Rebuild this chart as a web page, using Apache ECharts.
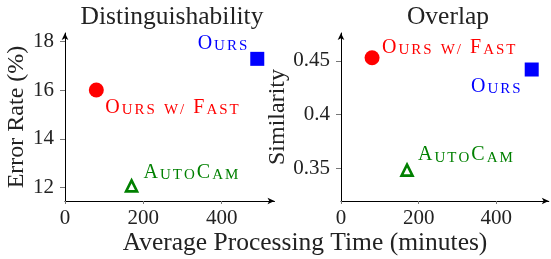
<!DOCTYPE html>
<html>
<head>
<meta charset="utf-8">
<script src="https://cdn.jsdelivr.net/npm/echarts@6/dist/echarts.min.js"></script>
<style>
  html, body { margin: 0; padding: 0; background: #fff; }
  #chart { width: 551px; height: 259px; }
</style>
</head>
<body>
<div id="chart"></div>
<script>
  // data
  var methods = ['Ours', 'Ours w/ Fast', 'AutoCam'];
  var timeMin = [491, 80, 170];
  var errorRate = [17.28, 16.0, 12.07];
  var similarity = [0.442, 0.453, 0.348];
  var xTicks = [0, 200, 400];
  var errTicks = [12, 14, 16, 18];
  var simTicks = [0.35, 0.4, 0.45];

  var colors = ['#0000ff', '#ff0000', '#008000'];
  var symbols = ['rect', 'circle', 'triangle'];
  var FONT = 'Liberation Serif';

  // label placement per panel: [align, dx, dy] from the marker centre
  var leftLabelPos = [['right', -9, -15], ['left', 8, 18], ['left', 11, -13]];
  var rightLabelPos = [['right', -10, 17], ['left', 9, -10], ['left', 10, -15]];

  // small caps via rich text
  function smallCaps(str) {
    var out = '';
    for (var i = 0; i < str.length; i++) {
      var c = str[i];
      if (c >= 'A' && c <= 'Z') out += '{b|' + c + '}';
      else if (c === ' ') out += '{b| }';
      else out += '{s|' + c.toUpperCase() + '}';
    }
    return out;
  }

  function richFor(color) {
    return {
      b: { fontFamily: FONT, fontSize: 20, color: color, verticalAlign: 'bottom', lineHeight: 20, padding: [0, 1] },
      s: { fontFamily: FONT, fontSize: 15, color: color, verticalAlign: 'bottom', lineHeight: 20, padding: [0, 1] }
    };
  }

  function makeSeries(gridIdx, yVals, labelPos) {
    return methods.map(function (m, i) {
      var isTri = symbols[i] === 'triangle';
      return {
        type: 'scatter',
        name: m,
        xAxisIndex: gridIdx,
        yAxisIndex: gridIdx,
        symbol: symbols[i],
        symbolSize: isTri ? 11 : (symbols[i] === 'rect' ? 14 : 15),
        itemStyle: isTri
          ? { color: '#fff', borderColor: colors[i], borderWidth: 2.6, opacity: 1 }
          : { color: colors[i], opacity: 1 },
        label: {
          show: true,
          position: 'inside',
          align: labelPos[i][0],
          verticalAlign: 'middle',
          offset: [labelPos[i][1], labelPos[i][2]],
          formatter: smallCaps(m),
          rich: richFor(colors[i])
        },
        emphasis: { disabled: true },
        data: [[timeMin[i], yVals[i]]]
      };
    });
  }

  function xAxisFor(gridIdx) {
    return {
      type: 'value',
      gridIndex: gridIdx,
      min: 0,
      max: 535,
      splitLine: { show: false },
      axisLine: { show: true, symbol: ['none', 'arrow'], symbolSize: [5, 7], lineStyle: { color: '#000', width: 1 } },
      axisTick: { show: true, length: 3, customValues: xTicks, lineStyle: { color: '#777' } },
      axisLabel: { customValues: xTicks, margin: 7, fontFamily: FONT, fontSize: 21, color: '#222' }
    };
  }

  function yAxisFor(gridIdx, min, max, ticks, name, gap) {
    return {
      type: 'value',
      gridIndex: gridIdx,
      min: min,
      max: max,
      name: name,
      nameLocation: 'middle',
      nameGap: gap,
      nameTextStyle: { fontFamily: FONT, fontSize: 24, color: '#222' },
      splitLine: { show: false },
      axisLine: { show: true, symbol: ['none', 'arrow'], symbolSize: [5, 7], lineStyle: { color: '#000', width: 1 } },
      axisTick: { show: true, length: 5, customValues: ticks, lineStyle: { color: '#777' } },
      axisLabel: { customValues: ticks, margin: 11, fontFamily: FONT, fontSize: 21, color: '#222' }
    };
  }

  var titleStyle = { fontFamily: FONT, fontSize: 25.5, fontWeight: 'normal', color: '#222' };

  var myChart = echarts.init(document.getElementById('chart'), null, { renderer: 'canvas' });
  myChart.setOption({
    animation: false,
    backgroundColor: '#fff',
    title: [
      { text: 'Distinguishability', left: 172, top: 4, padding: 0, textAlign: 'center', textStyle: titleStyle },
      { text: 'Overlap', left: 448, top: 4, padding: 0, textAlign: 'center', textStyle: titleStyle },
      { text: 'Average Processing Time (minutes)', left: 305, top: 230, padding: 0, textAlign: 'center', textStyle: titleStyle }
    ],
    grid: [
      { left: 65, top: 33, width: 209.5, height: 168 },
      { left: 341, top: 33, width: 207.8, height: 168 }
    ],
    xAxis: [xAxisFor(0), xAxisFor(1)],
    yAxis: [
      yAxisFor(0, 11.45, 18.34, errTicks, 'Error Rate (%)', 36),
      yAxisFor(1, 0.3192, 0.4761, simTicks, 'Similarity', 51)
    ],
    series: makeSeries(0, errorRate, leftLabelPos).concat(makeSeries(1, similarity, rightLabelPos))
  });
</script>
</body>
</html>
